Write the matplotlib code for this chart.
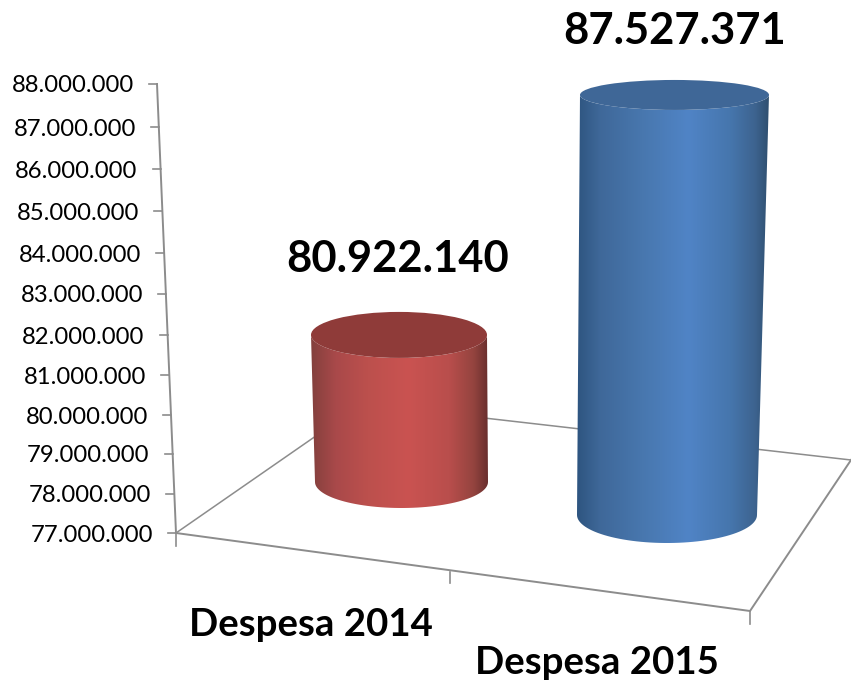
import numpy as np
import matplotlib
matplotlib.use("Agg")
import matplotlib.pyplot as plt
from matplotlib.colors import LinearSegmentedColormap
from matplotlib.patches import Ellipse, PathPatch
from matplotlib.path import Path

categories = ["Despesa 2014", "Despesa 2015"]
values = [80922140, 87527371]
axis_values = [77000000, 78000000, 79000000, 80000000, 81000000, 82000000,
               83000000, 84000000, 85000000, 86000000, 87000000, 88000000]

# the chart is a 3D projection so everything is worked out in image pixels
axis_px = [533, 494, 454, 415, 375, 335, 294, 253, 211, 169, 127, 84]
base = 77000000
GREY = "#8c8c8c"

plt.rcParams["font.family"] = ["Lato", "DejaVu Sans"]


def dotted(v):
  return f"{v:,}".replace(",", ".")


def axis_y(v):
  return np.interp(v, axis_values, axis_px)


def axis_x(y):
  return 157 + (y - 84) * 19.0 / 449


def cylinder(ax, value, px_per_million, cx_bot, rx_bot, cy_bot, ry_bot, cx_top, rx_top, ry_top, stops, topcolor):
  cy_top = cy_bot - (value - base) / 1e6 * px_per_million
  ts = np.linspace(0, np.pi, 60)
  # side outline: around the bottom front, then back over the top front
  bottom = [(cx_bot - rx_bot * np.cos(t), cy_bot + ry_bot * np.sin(t)) for t in ts]
  top = [(cx_top + rx_top * np.cos(t), cy_top + ry_top * np.sin(t)) for t in ts]
  outline = np.array(bottom + top + [bottom[0]])
  left = min(cx_bot - rx_bot, cx_top - rx_top)
  right = max(cx_bot + rx_bot, cx_top + rx_top)
  cmap = LinearSegmentedColormap.from_list("shade", stops)
  im = ax.imshow(np.linspace(0, 1, 256)[None, :], extent=(left, right, cy_bot + ry_bot, cy_top),
                 cmap=cmap, aspect="auto", zorder=3, interpolation="bilinear")
  clip = PathPatch(Path(outline), transform=ax.transData, fc="none", ec="none")
  ax.add_patch(clip)
  im.set_clip_path(clip)
  ax.add_patch(Ellipse((cx_top, cy_top), 2 * rx_top, 2 * ry_top, fc=topcolor, ec="none", zorder=4))


fig = plt.figure(figsize=(8.51, 6.8), dpi=100)
ax = fig.add_axes([0, 0, 1, 1])

# floor
ax.plot([176, 362, 851], [533, 404, 460], color=GREY, lw=1.1, zorder=1)
ax.plot([176, 750, 851], [533, 611, 460], color=GREY, lw=1.4, zorder=1)
ax.plot([176, 176], [533, 546], color=GREY, lw=1.2, zorder=1)
ax.plot([450, 450], [572, 583], color=GREY, lw=1.2, zorder=1)
ax.plot([750, 750], [611, 624], color=GREY, lw=1.2, zorder=1)

# value axis
ax.plot([axis_x(84), axis_x(533)], [84, 533], color=GREY, lw=1.4, zorder=1)
for v in axis_values:
  y = axis_y(v)
  x = axis_x(y)
  ax.plot([x - 8, x], [y, y], color=GREY, lw=1.2, zorder=1)
  ax.text(x - 23, y + 2, dotted(v), ha="right", va="center", fontsize=17.2, color="black")

red = [(0, "#83403d"), (0.14, "#a9494a"), (0.32, "#bc504d"), (0.55, "#ca5351"), (0.78, "#b94e4c"), (0.92, "#94443f"), (1, "#6a2f2e")]
blue = [(0, "#2e5580"), (0.12, "#3f6899"), (0.34, "#4877ae"), (0.58, "#5084c6"), (0.8, "#4676ad"), (0.93, "#3d638f"), (1, "#2f5070")]
cylinder(ax, values[0], 37.5, 401.5, 86.5, 482, 26, 399, 88, 23, red, "#8f3b39")
cylinder(ax, values[1], 39.9, 667, 90, 515, 28, 674.5, 94.5, 15, blue, "#3f6797")

# data labels
ax.text(398, 259, dotted(values[0]), ha="center", va="center", fontsize=31.3, fontweight="bold", color="black")
ax.text(675, 31, dotted(values[1]), ha="center", va="center", fontsize=31.3, fontweight="bold", color="black")

# category labels
ax.text(311, 625, categories[0], ha="center", va="center", fontsize=27.6, fontweight="bold", color="black")
ax.text(597, 663, categories[1], ha="center", va="center", fontsize=27.6, fontweight="bold", color="black")

ax.set_xlim(0, 851)
ax.set_ylim(680, 0)
ax.axis("off")

fig.savefig("out.png", dpi=100)
